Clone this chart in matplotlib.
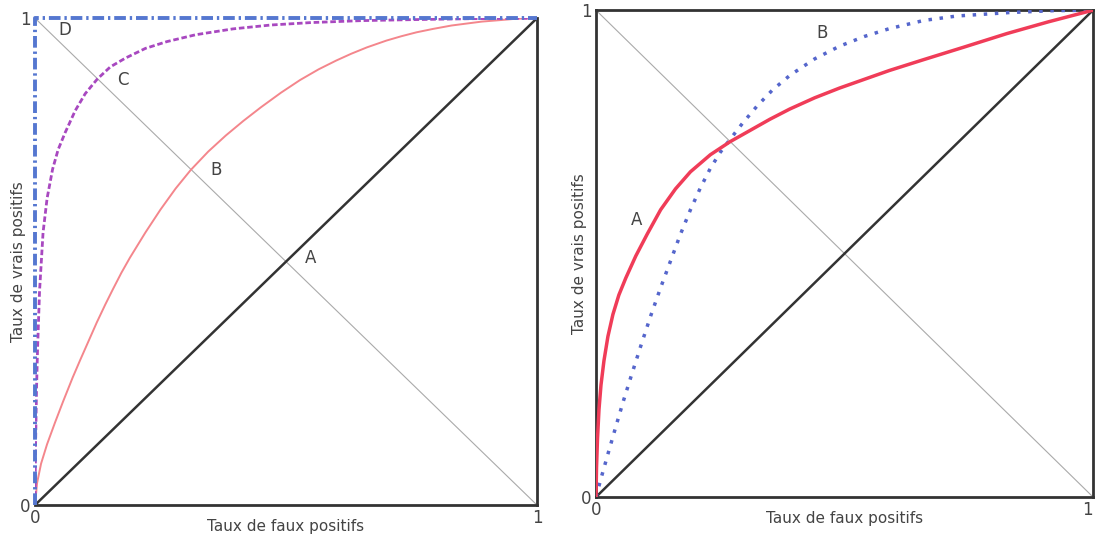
import matplotlib
matplotlib.use("Agg")
import matplotlib.pyplot as plt
import numpy as np

# left panel: curves B (pink), C (purple), D (perfect)
b_left_x = [0, 0.004, 0.012, 0.024, 0.04, 0.056, 0.075, 0.09, 0.105, 0.123, 0.14, 0.155,
            0.172, 0.189, 0.22, 0.25, 0.28, 0.31, 0.345, 0.38, 0.415, 0.45, 0.49, 0.528,
            0.565, 0.6, 0.63, 0.661, 0.7, 0.73, 0.76, 0.793, 0.83, 0.86, 0.89, 0.926, 0.96, 1]
b_left_y = [0, 0.045, 0.085, 0.125, 0.17, 0.213, 0.262, 0.298, 0.333, 0.375, 0.412, 0.443,
            0.477, 0.508, 0.56, 0.607, 0.65, 0.688, 0.726, 0.759, 0.789, 0.817, 0.847, 0.873,
            0.895, 0.913, 0.927, 0.94, 0.954, 0.963, 0.971, 0.978, 0.985, 0.989, 0.993, 0.996,
            0.999, 1]
c_left_x = [0, 0.001, 0.003, 0.005, 0.009, 0.016, 0.024, 0.035, 0.046, 0.06, 0.08, 0.1,
            0.124, 0.15, 0.18, 0.22, 0.263, 0.32, 0.394, 0.47, 0.55, 0.65, 0.75, 0.87, 1]
c_left_y = [0, 0.12, 0.24, 0.32, 0.44, 0.56, 0.63, 0.69, 0.73, 0.765, 0.81, 0.845,
            0.875, 0.9, 0.918, 0.938, 0.952, 0.966, 0.978, 0.986, 0.991, 0.995, 0.997, 0.999, 1]
d_left_x = [0, 0, 1]
d_left_y = [0, 1, 1]

# right panel: curves A (red) and B (blue dotted)
a_right_x = [0, 0.001, 0.003, 0.006, 0.01, 0.016, 0.024, 0.034, 0.046, 0.06, 0.08, 0.103,
             0.13, 0.16, 0.19, 0.23, 0.27, 0.31, 0.35, 0.39, 0.44, 0.49, 0.54, 0.59, 0.658,
             0.74, 0.827, 0.91, 1]
a_right_y = [0, 0.06, 0.12, 0.18, 0.23, 0.28, 0.33, 0.375, 0.415, 0.45, 0.495, 0.54,
             0.59, 0.633, 0.668, 0.703, 0.73, 0.753, 0.776, 0.797, 0.82, 0.84, 0.858, 0.876,
             0.898, 0.924, 0.952, 0.976, 1]
b_right_x = [0, 0.01, 0.025, 0.04, 0.055, 0.07, 0.09, 0.11, 0.13, 0.15, 0.17, 0.19, 0.21,
             0.23, 0.25, 0.27, 0.295, 0.324, 0.355, 0.39, 0.44, 0.49, 0.54, 0.59, 0.66,
             0.726, 0.83, 0.92, 1]
b_right_y = [0, 0.038, 0.092, 0.145, 0.197, 0.246, 0.31, 0.372, 0.43, 0.485, 0.54, 0.59,
             0.635, 0.675, 0.708, 0.735, 0.768, 0.803, 0.836, 0.866, 0.9, 0.926, 0.946, 0.962,
             0.979, 0.988, 0.995, 0.999, 1]

xlabel = "Taux de faux positifs"
ylabel = "Taux de vrais positifs"
txt = "#444444"

fig = plt.figure(figsize=(10.95, 5.35), dpi=100)
ax1 = fig.add_axes([0.032, 0.056, 0.4584, 0.910])
ax2 = fig.add_axes([0.5443, 0.071, 0.4539, 0.910])

for ax in (ax1, ax2):
    ax.set_xlim(0, 1)
    ax.set_ylim(0, 1)
    ax.set_xticks([0, 1])
    ax.set_yticks([0, 1])
    ax.set_xticklabels(["0", "1"])
    ax.set_yticklabels(["0", "1"])
    ax.tick_params(length=0, labelsize=12, labelcolor=txt, pad=3)
    for s in ax.spines.values():
        s.set_color("#333333")
        s.set_linewidth(2)
    ax.set_xlabel(xlabel, fontsize=11, color=txt, labelpad=-6)
    ax.set_ylabel(ylabel, fontsize=11, color=txt, labelpad=-4)
    ax.plot([0, 1], [0, 1], color="#333333", lw=1.8, zorder=2)
    ax.plot([0, 1], [1, 0], color="#aaaaaa", lw=0.8, zorder=1)

# perfect curve D replaces the top and left frame on the left panel
ax1.spines["top"].set_visible(False)
ax1.spines["left"].set_visible(False)

ax1.plot(b_left_x, b_left_y, color="#f4868c", lw=1.4, zorder=3)
ax1.plot(c_left_x, c_left_y, color="#a848c0", lw=2, ls=(0, (2, 1)), zorder=4)
ax1.plot(d_left_x, d_left_y, color="#5577d0", lw=2.8, ls=(0, (3, 1, 0.6, 1)),
         clip_on=False, zorder=5)

ax1.text(0.06, 0.975, "D", fontsize=12, color=txt, ha="center", va="center")
ax1.text(0.175, 0.873, "C", fontsize=12, color=txt, ha="center", va="center")
ax1.text(0.36, 0.688, "B", fontsize=12, color=txt, ha="center", va="center")
ax1.text(0.548, 0.507, "A", fontsize=12, color=txt, ha="center", va="center")

ax2.plot(a_right_x, a_right_y, color="#f03c58", lw=2.5, zorder=4)
ax2.plot(b_right_x, b_right_y, color="#5566cc", lw=2.5, ls=(0, (1, 2.2)), zorder=3)

ax2.text(0.082, 0.569, "A", fontsize=12, color=txt, ha="center", va="center")
ax2.text(0.455, 0.953, "B", fontsize=12, color=txt, ha="center", va="center")

# keep the right "1" inside the picture
ax2.get_xticklabels()[1].set_horizontalalignment("right")

fig.savefig("out.png", dpi=100)
